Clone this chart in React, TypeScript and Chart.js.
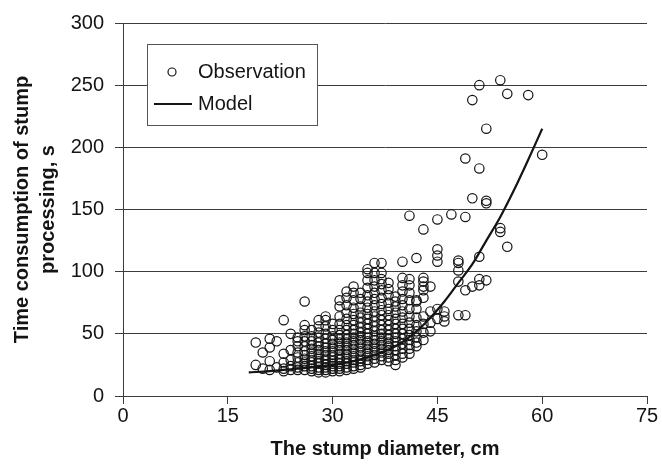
import React, { useEffect, useRef } from "react";
import { Chart, registerables } from "chart.js";

Chart.register(...registerables);

const diameters = [
  19, 20, 21, 22, 23, 24, 25, 26, 27, 28, 29, 30, 31, 32, 33, 34, 35, 36, 37, 38,
  39, 40, 41, 42, 43, 44, 45, 46, 47, 48, 49, 50, 51, 52, 54, 55, 58, 60,
];
const timesByDiameter: number[][] = [
  [43, 25],
  [35, 22],
  [46, 39, 28, 21],
  [44, 23],
  [61, 34, 27, 22, 20],
  [50, 37, 29, 24, 21],
  [47, 44, 40, 35, 31, 27, 23, 21],
  [76, 57, 53, 48, 44, 40, 36, 33, 30, 27, 24, 21],
  [53, 48, 44, 41, 38, 35, 32, 29, 27, 24, 22, 20],
  [61, 56, 51, 47, 43, 40, 37, 34, 31, 28, 26, 23, 21, 19],
  [64, 61, 56, 50, 46, 42, 39, 36, 33, 30, 28, 25, 23, 21, 19],
  [58, 53, 48, 45, 42, 39, 36, 33, 31, 28, 26, 24, 22, 20],
  [77, 72, 64, 58, 53, 49, 46, 43, 40, 37, 34, 31, 29, 26, 24, 22, 20],
  [84, 79, 73, 67, 62, 57, 53, 49, 46, 43, 40, 37, 34, 31, 28, 26, 23, 21],
  [88, 83, 77, 71, 66, 61, 57, 53, 50, 47, 44, 41, 38, 35, 32, 29, 27, 24, 22],
  [83, 78, 72, 67, 63, 59, 55, 51, 48, 45, 42, 39, 36, 33, 30, 28, 25, 23],
  [102, 99, 93, 87, 81, 76, 71, 66, 62, 58, 54, 50, 47, 44, 41, 38, 35, 32, 29, 26],
  [107, 99, 93, 88, 83, 78, 73, 68, 64, 60, 56, 52, 48, 45, 42, 39, 36, 33, 30, 27],
  [107, 99, 94, 90, 85, 79, 74, 69, 65, 61, 57, 53, 50, 47, 44, 41, 38, 35, 32, 29],
  [91, 86, 81, 75, 70, 65, 61, 57, 53, 49, 46, 43, 40, 37, 34, 31, 28],
  [80, 76, 72, 67, 62, 58, 54, 50, 47, 44, 40, 37, 33, 29, 25],
  [108, 95, 89, 84, 78, 73, 68, 63, 58, 54, 50, 46, 42, 38, 34, 31],
  [145, 94, 89, 83, 77, 70, 64, 59, 54, 49, 45, 41, 38, 34],
  [111, 77, 76, 70, 63, 57, 52, 47, 43, 40],
  [134, 95, 92, 88, 85, 79, 64, 58, 51, 45],
  [88, 68, 59, 52],
  [142, 118, 113, 108, 70, 62],
  [68, 64, 60],
  [146],
  [109, 107, 101, 92, 65],
  [191, 144, 85, 65],
  [238, 159, 88],
  [250, 183, 112, 94, 89],
  [215, 157, 155, 93],
  [254, 135, 132],
  [243, 120],
  [242],
  [194],
];

// Model curve
const modelDiameter = [18, 21, 24, 27, 30, 33, 36, 39, 42, 44, 46, 48, 50, 52, 54, 56, 58, 60];
const modelTime = [19, 20, 21.5, 23, 25, 28, 33, 40, 52, 63, 76, 91, 106, 125, 144, 166, 190, 215];

const xTicks = [0, 15, 30, 45, 60, 75];
const yTicks = [0, 50, 100, 150, 200, 250, 300];

const seriesLabels = ["Observation", "Model"];
const xTitle = "The stump diameter, cm";
const yTitle = ["Time consumption of stump", "processing, s"];

const FONT = "'Liberation Sans', Arial, Helvetica, sans-serif";
const INK = "#141414";
const GRID = "#3c3c3c";

const boxLegend = {
  id: "boxLegend",
  afterDraw(chart: any) {
    const { ctx, chartArea } = chart;
    const x0 = Math.round(chartArea.left + 24);
    const y0 = Math.round(chartArea.top + 21);
    const w = 170;
    const h = 81;
    ctx.save();
    ctx.fillStyle = "#ffffff";
    ctx.fillRect(x0, y0, w, h);
    ctx.strokeStyle = "#555555";
    ctx.lineWidth = 1;
    ctx.strokeRect(x0 + 0.5, y0 + 0.5, w, h);
    const ds = chart.data.datasets;
    ctx.beginPath();
    ctx.arc(x0 + 25, y0 + 28, 4, 0, Math.PI * 2);
    ctx.strokeStyle = INK;
    ctx.lineWidth = 1.2;
    ctx.stroke();
    ctx.beginPath();
    ctx.moveTo(x0 + 7, y0 + 60);
    ctx.lineTo(x0 + 45, y0 + 60);
    ctx.lineWidth = 2.2;
    ctx.stroke();
    ctx.fillStyle = INK;
    ctx.font = `20px ${FONT}`;
    ctx.textBaseline = "middle";
    ctx.textAlign = "left";
    ctx.fillText(ds[0].label, x0 + 51, y0 + 28);
    ctx.fillText(ds[1].label, x0 + 51, y0 + 60);
    ctx.restore();
  },
};

export default function App() {
  const ref = useRef<HTMLCanvasElement | null>(null);

  useEffect(() => {
    document.body.style.margin = "0";
    const obs: { x: number; y: number }[] = [];
    diameters.forEach((d, i) => {
      timesByDiameter[i].forEach((t) => obs.push({ x: d, y: t }));
    });
    const model = modelDiameter.map((d, i) => ({ x: d, y: modelTime[i] }));

    const chart = new Chart(ref.current as HTMLCanvasElement, {
      type: "scatter",
      data: {
        datasets: [
          {
            label: seriesLabels[0],
            data: obs,
            pointRadius: 4.7,
            pointHoverRadius: 4.7,
            pointBorderWidth: 1.2,
            borderColor: INK,
            backgroundColor: "rgba(0,0,0,0)",
            showLine: false,
            order: 2,
          },
          {
            label: seriesLabels[1],
            data: model,
            type: "line",
            showLine: true,
            pointRadius: 0,
            borderColor: INK,
            borderWidth: 2.2,
            cubicInterpolationMode: "monotone",
            fill: false,
            order: 1,
          } as any,
        ],
      },
      options: {
        responsive: false,
        animation: false,
        layout: { padding: { left: 0, right: 15, top: 23, bottom: 0 } },
        plugins: {
          legend: { display: false },
          tooltip: { enabled: false },
        },
        scales: {
          x: {
            type: "linear",
            min: 0,
            max: 75,
            afterBuildTicks: (s: any) => {
              s.ticks = xTicks.map((v) => ({ value: v }));
            },
            afterFit: (s: any) => {
              s.height = 74;
            },
            ticks: {
              color: INK,
              font: { family: FONT, size: 20 },
              padding: 0,
              maxRotation: 0,
            },
            grid: {
              drawOnChartArea: false,
              drawTicks: true,
              tickLength: 8,
              color: GRID,
            },
            border: { display: true, color: GRID, width: 1 },
            title: {
              display: true,
              text: xTitle,
              color: INK,
              font: { family: FONT, size: 20, weight: "bold" },
              padding: { top: 0, bottom: 9 },
            },
          },
          y: {
            type: "linear",
            min: 0,
            max: 300,
            afterBuildTicks: (s: any) => {
              s.ticks = yTicks.map((v) => ({ value: v }));
            },
            afterFit: (s: any) => {
              s.width = 123;
            },
            ticks: {
              color: INK,
              font: { family: FONT, size: 20 },
              padding: 11,
            },
            grid: {
              drawOnChartArea: true,
              drawTicks: true,
              tickLength: 8,
              color: GRID,
            },
            border: { display: true, color: GRID, width: 1 },
            title: {
              display: true,
              text: yTitle,
              color: INK,
              font: { family: FONT, size: 20, weight: "bold", lineHeight: 1.3 },
              padding: { top: 9, bottom: 0 },
            },
          },
        },
      },
      plugins: [boxLegend],
    });
    return () => chart.destroy();
  }, []);

  return (
    <div style={{ width: 662, height: 470 }}>
      <canvas ref={ref} width={662} height={470} style={{ display: "block" }} />
    </div>
  );
}
